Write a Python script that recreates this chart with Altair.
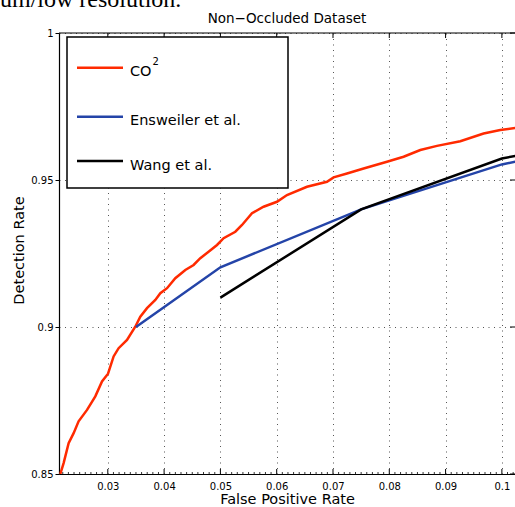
import altair as alt
import pandas as pd

# ---------------- data ----------------
series_names = ["CO\u00b2", "Ensweiler et al.", "Wang et al."]
series_colors = ["#ff2a00", "#2444a8", "#000000"]

co2_fpr = [0.02156, 0.02215, 0.02304, 0.02393, 0.02481, 0.02631, 0.02778, 0.02897,
           0.03004, 0.03103, 0.03192, 0.03341, 0.03488, 0.03577, 0.03696, 0.03844,
           0.03933, 0.04052, 0.04199, 0.04377, 0.04524, 0.04643, 0.04790, 0.04940,
           0.05057, 0.05265, 0.05384, 0.05561, 0.05767, 0.06005, 0.06183, 0.06538,
           0.06893, 0.07011, 0.07249, 0.07544, 0.07959, 0.08254, 0.08551, 0.08847,
           0.09261, 0.09675, 0.09972, 0.10238]
co2_dr = [0.8500, 0.8537, 0.8605, 0.8639, 0.8679, 0.8718, 0.8764, 0.8815,
          0.8841, 0.8900, 0.8928, 0.8956, 0.9001, 0.9035, 0.9064, 0.9092,
          0.9115, 0.9132, 0.9166, 0.9194, 0.9211, 0.9234, 0.9256, 0.9279,
          0.9302, 0.9324, 0.9347, 0.9387, 0.9409, 0.9426, 0.9449, 0.9477,
          0.9494, 0.9509, 0.9522, 0.9539, 0.9562, 0.9579, 0.9602, 0.9616,
          0.9632, 0.9658, 0.9670, 0.9677]

ens_fpr = [0.035, 0.050, 0.075, 0.100, 0.1024]
ens_dr = [0.9000, 0.9203, 0.9400, 0.9553, 0.9562]

wang_fpr = [0.050, 0.075, 0.100, 0.1024]
wang_dr = [0.9100, 0.9400, 0.9573, 0.9582]

x_ticks = [0.03, 0.04, 0.05, 0.06, 0.07, 0.08, 0.09, 0.1]
y_ticks = [0.85, 0.9, 0.95, 1.0]
x_minor = [round(k / 1000, 3) for k in range(22, 103) if k % 10 != 0]

title_text = "Non\u2212Occluded Dataset"
page_text = "um/low resolution."
x_title = "False Positive Rate"
y_title = "Detection Rate"

# ---------------- layout ----------------
W, H = 456, 441
X_DOMAIN = [0.02133, 0.10233]
Y_DOMAIN = [0.85, 1.0]
FONT = "DejaVu Sans"

rows = []
for name, xs_, ys_ in zip(series_names, [co2_fpr, ens_fpr, wang_fpr], [co2_dr, ens_dr, wang_dr]):
    for i, (a, b) in enumerate(zip(xs_, ys_)):
        rows.append({"series": name, "fpr": a, "dr": b, "idx": i})
df = pd.DataFrame(rows)

xs = alt.Scale(domain=X_DOMAIN, nice=False, zero=False)
ys = alt.Scale(domain=Y_DOMAIN, nice=False, zero=False)

x_axis = alt.Axis(
    values=x_ticks, format=".2~f", ticks=False, grid=True,
    gridDash=[1, 4.5], gridColor="#555", gridWidth=1,
    domainColor="black", domainWidth=1.2,
    labelFontSize=10, labelPadding=7,
    title=x_title, titleFontSize=14.5, titleFontWeight="normal",
    titleX=228, titleY=29, titleBaseline="alphabetic", titleAlign="center")
y_axis = alt.Axis(
    values=y_ticks, format=".2~f", tickSize=4, tickColor="black",
    grid=True, gridDash=[1, 4.5], gridColor="#555", gridWidth=1,
    domainColor="black", domainWidth=1.2,
    labelFontSize=10, labelPadding=2,
    title=y_title, titleFontSize=14.5, titleFontWeight="normal",
    titleAngle=270, titleX=-40, titleY=217, titleBaseline="middle",
    titleAlign="center")

lines = alt.Chart(df).mark_line(strokeWidth=2.5, clip=True).encode(
    x=alt.X("fpr:Q", scale=xs, axis=x_axis),
    y=alt.Y("dr:Q", scale=ys, axis=y_axis),
    color=alt.Color("series:N", scale=alt.Scale(domain=series_names, range=series_colors),
                    legend=None),
    order="idx:Q",
)

xt = pd.DataFrame({"fpr": x_ticks})
xm = pd.DataFrame({"fpr": x_minor})
yt = pd.DataFrame({"dr": y_ticks})

top_ticks = alt.Chart(xt).mark_rule(color="black", strokeWidth=1).encode(
    x=alt.X("fpr:Q", scale=xs, axis=x_axis), y=alt.value(0), y2=alt.value(5))
bot_ticks = alt.Chart(xt).mark_rule(color="black", strokeWidth=1).encode(
    x=alt.X("fpr:Q", scale=xs, axis=x_axis), y=alt.value(H), y2=alt.value(H - 5))
bot_minor = alt.Chart(xm).mark_rule(color="black", strokeWidth=0.8).encode(
    x=alt.X("fpr:Q", scale=xs, axis=x_axis), y=alt.value(H), y2=alt.value(H - 2))
right_ticks = alt.Chart(yt).mark_rule(color="black", strokeWidth=1).encode(
    y=alt.Y("dr:Q", scale=ys, axis=y_axis), x=alt.value(W - 5), x2=alt.value(W))

one = pd.DataFrame({"a": [0]})
top_frame = alt.Chart(one).mark_rule(color="black", strokeWidth=1.2).encode(
    x=alt.value(0), x2=alt.value(W), y=alt.value(0))

# legend (drawn by hand, MATLAB style)
legend_box = alt.Chart(one).mark_rect(fill="white", stroke="black", strokeWidth=1.5).encode(
    x=alt.value(8), x2=alt.value(229), y=alt.value(4), y2=alt.value(155))
legend_layers = [legend_box]
legend_labels = ["CO", series_names[1], series_names[2]]
for label, col, ly in zip(legend_labels, series_colors, [34.7, 83.7, 128]):
    legend_layers.append(alt.Chart(one).mark_rule(color=col, strokeWidth=2.5).encode(
        x=alt.value(18), x2=alt.value(64), y=alt.value(ly)))
    legend_layers.append(alt.Chart(one).mark_text(
        text=label, font=FONT, fontSize=14.5, align="left", baseline="alphabetic",
        color="black").encode(x=alt.value(71), y=alt.value(ly + 8.5)))
legend_layers.append(alt.Chart(one).mark_text(
    text="2", font=FONT, fontSize=10, align="left", baseline="alphabetic",
    color="black").encode(x=alt.value(93.5), y=alt.value(32)))

title_mark = alt.Chart(one).mark_text(
    text=title_text, font=FONT, fontSize=13.5, align="center", baseline="alphabetic",
    color="black").encode(x=alt.value(W / 2), y=alt.value(-10))
page_mark = alt.Chart(one).mark_text(
    text=page_text, font="Liberation Serif", fontSize=24, align="left",
    baseline="alphabetic", color="black").encode(x=alt.value(-59), y=alt.value(-26))

chart = alt.layer(
    lines, top_frame, top_ticks, bot_ticks, bot_minor, right_ticks,
    *legend_layers, title_mark, page_mark
).properties(
    width=W, height=H,
    autosize=alt.AutoSizeParams(type="none"),
    padding={"left": 59, "top": 33, "right": 0, "bottom": 33},
).configure_view(stroke=None).configure_axis(
    labelFont=FONT, titleFont=FONT, labelColor="black", titleColor="black"
)

chart.save("out.html", embed_options={"renderer": "svg", "actions": False})
